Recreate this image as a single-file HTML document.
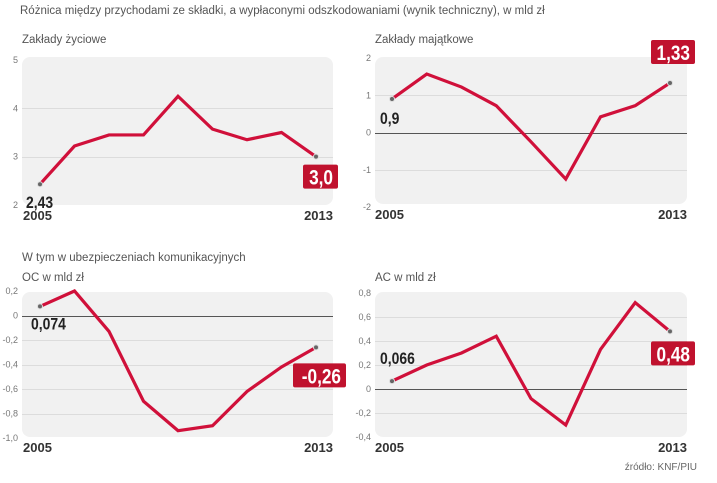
<!DOCTYPE html>
<html><head><meta charset="utf-8"><style>
body{margin:0;background:#fff;}
svg{display:block;font-family:"Liberation Sans",sans-serif;}
</style></head><body>
<svg id="s" width="717" height="483">
<text x="20" y="14" font-size="11.5" fill="#555">Różnica między przychodami ze składki, a wypłaconymi odszkodowaniami (wynik techniczny), w mld zł</text>
<text x="22" y="43" font-size="11.5" fill="#555">Zakłady życiowe</text>
<text x="375" y="43" font-size="11.5" fill="#555">Zakłady majątkowe</text>
<text x="22" y="261" font-size="11.5" fill="#555">W tym w ubezpieczeniach komunikacyjnych</text>
<text x="22" y="281" font-size="11.5" fill="#555">OC w mld zł</text>
<text x="375" y="281" font-size="11.5" fill="#555">AC w mld zł</text>
<text x="697" y="470" font-size="10" fill="#666" text-anchor="end">źródło: KNF/PIU</text>
</svg>
<script>
const years=[2005,2006,2007,2008,2009,2010,2011,2012,2013];
const lifeValues=[2.43,3.22,3.45,3.45,4.25,3.57,3.35,3.5,3.0];
const propertyValues=[0.9,1.57,1.22,0.72,-0.25,-1.25,0.42,0.72,1.33];
const ocValues=[0.074,0.2,-0.13,-0.7,-0.94,-0.9,-0.62,-0.42,-0.26];
const acValues=[0.066,0.2,0.3,0.44,-0.08,-0.3,0.33,0.72,0.48];
const lifeTicks=[2,3,4,5];
const lifeTickLabels=["2","3","4","5"];
const propertyTicks=[-2,-1,0,1,2];
const propertyTickLabels=["-2","-1","0","1","2"];
const ocTicks=[-1.0,-0.8,-0.6,-0.4,-0.2,0,0.2];
const ocTickLabels=["-1,0","-0,8","-0,6","-0,4","-0,2","0","0,2"];
const acTicks=[-0.4,-0.2,0,0.2,0.4,0.6,0.8];
const acTickLabels=["-0,4","-0,2","0","0,2","0,4","0,6","0,8"];
const firstLabels=["2,43","0,9","0,074","0,066"];
const lastLabels=["3,0","1,33","-0,26","0,48"];
const NS="http://www.w3.org/2000/svg";
const svg=document.getElementById('s');
function mk(tag,attrs,parent){const e=document.createElementNS(NS,tag);for(const k in attrs)e.setAttribute(k,attrs[k]);(parent||svg).appendChild(e);return e;}
function panel(name,vals,ticks,tickLabels,min,max,bx0,bx1,by0,by1,xs0,xs1,yTop,yBot,fl,ll,flPos,llPos){
  const g=mk('g',{});
  
  
  const X=i=>xs0+(xs1-xs0)*i/(years.length-1);
  const Y=v=>yBot-(v-min)/(max-min)*(yBot-yTop);
  const bg=mk('rect',{x:bx0,y:by0,width:bx1-bx0,height:by1-by0,rx:8,fill:'#f1f1f1'},g);
  
  
  ticks.forEach((t,i)=>{
    const y=Y(t);
    if(t>min&&t<max){const l=mk('line',{x1:bx0,x2:bx1,y1:Math.round(y)+0.5,y2:Math.round(y)+0.5,stroke:t===0?'#555':'#dcdcdc','stroke-width':1},g);
      
      }
    const tx=mk('text',{x:bx0-4,y:y+3,'font-size':9,fill:'#777','text-anchor':'end'},g);
    tx.textContent=tickLabels[i];
    
    
  });
  const pts=vals.map((v,i)=>X(i)+','+Y(v)).join(' ');
  const pl=mk('polyline',{points:pts,fill:'none',stroke:'#d0103a','stroke-width':3.2,'stroke-linejoin':'miter'},g);
  
  
  [0,vals.length-1].forEach(i=>{const c=mk('circle',{cx:X(i),cy:Y(vals[i]),r:2.5,fill:'#666',stroke:'#ddd','stroke-width':1},g);
    
    });
  const y0=mk('text',{x:xs0-17,y:by1+15,'font-size':13,'font-weight':'bold',fill:'#333'},g);y0.textContent=years[0];
  
  
  const y1=mk('text',{x:xs1+17,y:by1+15,'font-size':13,'font-weight':'bold',fill:'#333','text-anchor':'end'},g);y1.textContent=years[years.length-1];
  
  
  const fx=X(0)+flPos[0],fy=Y(vals[0])+flPos[1];
  const f=mk('text',{x:0,y:0,'font-size':17,'font-weight':'bold',fill:'#222',transform:'translate('+fx+','+fy+') scale(0.82,1)'},g);f.textContent=fl;
  
  
  const lx=X(vals.length-1)+llPos[0],ly=Y(vals[vals.length-1])+llPos[1];
  const tw=ll.length*9+8;
  const r=mk('rect',{x:lx-tw+8,y:ly,width:tw,height:24,fill:'#c0122e',rx:2},g);
  
  
  const t=mk('text',{x:0,y:0,'font-size':21,'font-weight':'bold',fill:'#fff','text-anchor':'end',transform:'translate('+(lx+3)+','+(ly+20)+') scale(0.82,1)'},g);t.textContent=ll;
  
  
}
panel('life',lifeValues,lifeTicks,lifeTickLabels,2,5,22,333,57,205,40,316,60,205,firstLabels[0],lastLabels[0],[-14,24],[14,8]);
panel('property',propertyValues,propertyTicks,propertyTickLabels,-2,2,375,687,57,204,392,670,58,207,firstLabels[1],lastLabels[1],[-12,25],[17,-43]);
panel('oc',ocValues,ocTicks,ocTickLabels,-1,0.2,22,333,292,437,40,316,291,438,firstLabels[2],lastLabels[2],[-9,23],[22,16]);
panel('ac',acValues,acTicks,acTickLabels,-0.4,0.8,375,687,292,437,392,670,293,437,firstLabels[3],lastLabels[3],[-12,-17],[17,10]);
</script>
</body></html>
